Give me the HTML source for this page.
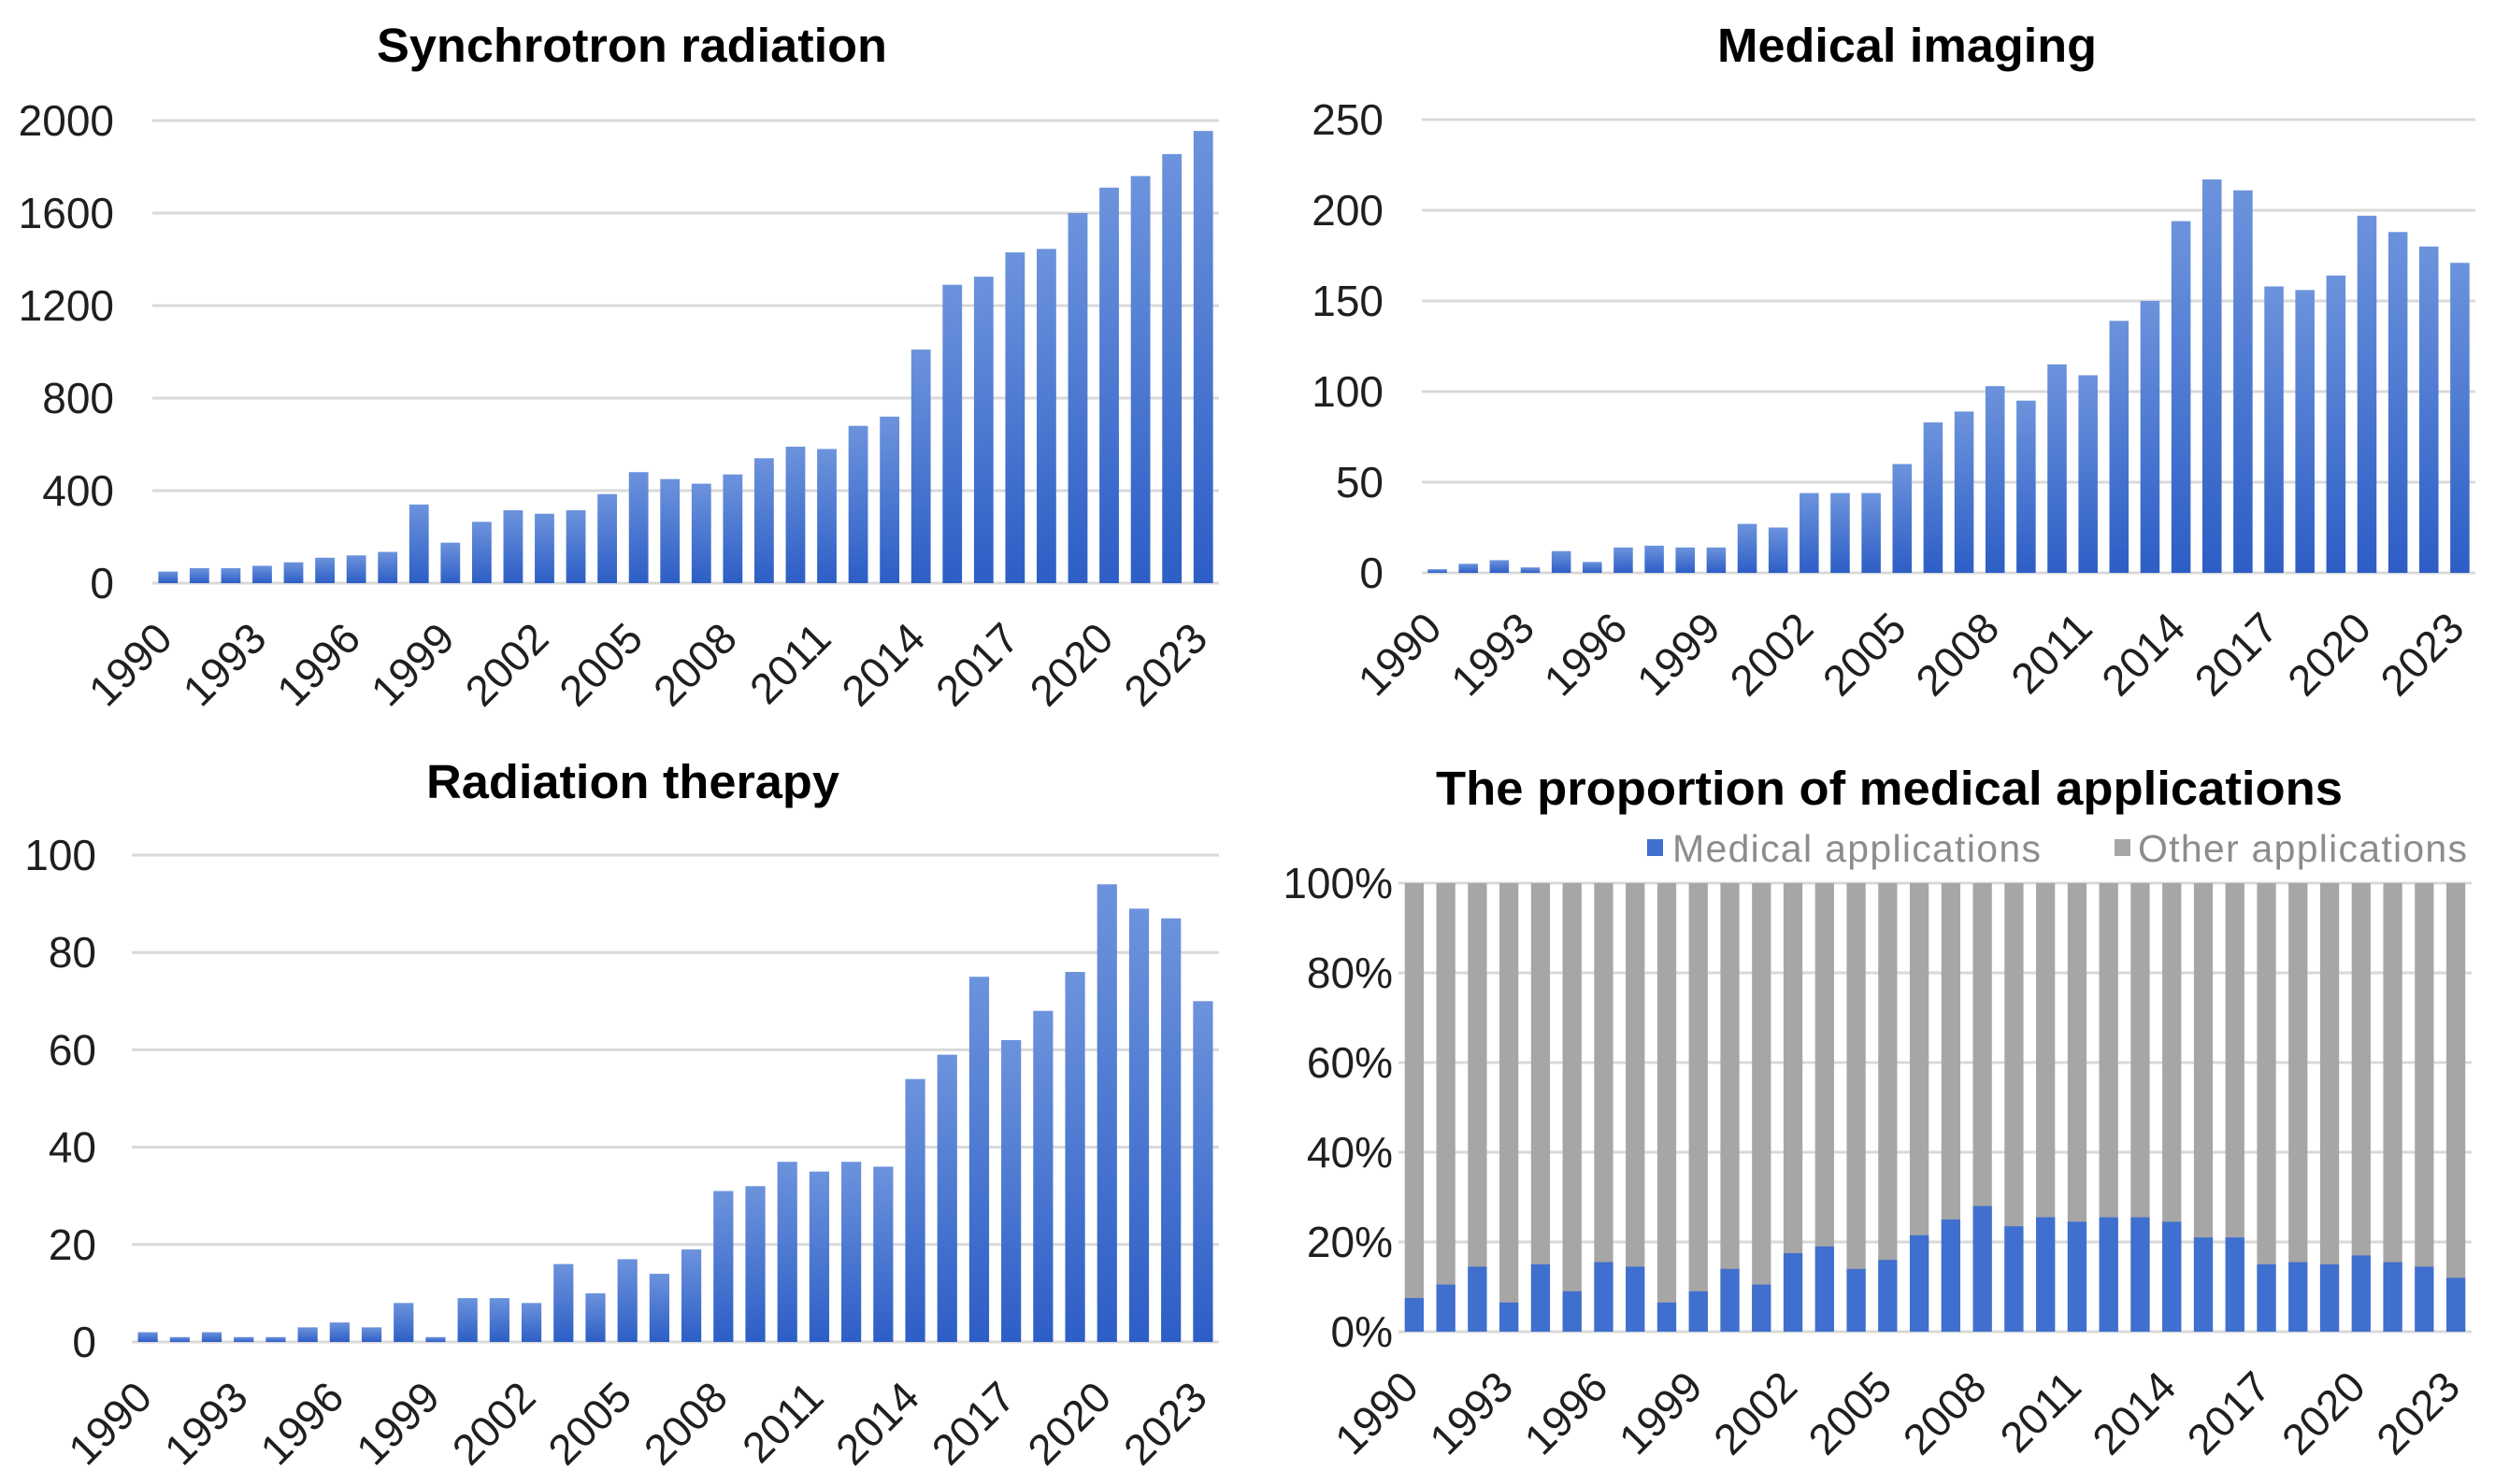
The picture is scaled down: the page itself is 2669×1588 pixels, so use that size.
<!DOCTYPE html>
<html><head><meta charset="utf-8"><style>
html,body{margin:0;padding:0;background:#fff;}
svg{display:block;font-family:"Liberation Sans",sans-serif;}
</style></head><body>
<svg id="fig" width="2669" height="1588" viewBox="0 0 2669 1588" xmlns="http://www.w3.org/2000/svg">
<defs>
<linearGradient id="blueGrad" x1="0" y1="0" x2="0" y2="1">
<stop offset="0" stop-color="#6c93dc"/><stop offset="1" stop-color="#2d5ec6"/>
</linearGradient>
</defs>
</svg>
<script>
const years = [];
for (let y = 1990; y <= 2023; y++) years.push(y);
const xLabelYears = [1990,1993,1996,1999,2002,2005,2008,2011,2014,2017,2020,2023];
const synchrotronValues = [50,65,65,75,90,110,120,135,340,175,265,315,300,315,385,480,450,430,470,540,590,580,680,720,1010,1290,1325,1430,1445,1600,1710,1760,1855,1955];
const synchrotronTicks = [0,400,800,1200,1600,2000];
const imagingValues = [2,5,7,3,12,6,14,15,14,14,27,25,44,44,44,60,83,89,103,95,115,109,139,150,194,217,211,158,156,164,197,188,180,171];
const imagingTicks = [0,50,100,150,200,250];
const therapyValues = [2,1,2,1,1,3,4,3,8,1,9,9,8,16,10,17,14,19,31,32,37,35,37,36,54,59,75,62,68,76,94,89,87,70];
const therapyTicks = [0,20,40,60,80,100];
const medicalShare = [7.5,10.5,14.5,6.5,15,9,15.5,14.5,6.5,9,14,10.5,17.5,19,14,16,21.5,25,28,23.5,25.5,24.5,25.5,25.5,24.5,21,21,15,15.5,15,17,15.5,14.5,12];
const shareTicks = [0,20,40,60,80,100];

const NS = "http://www.w3.org/2000/svg";
const svg = document.getElementById('fig');
function mk(tag, attrs, parent) {
  const e = document.createElementNS(NS, tag);
  for (const k in attrs) e.setAttribute(k, attrs[k]);
  (parent || svg).appendChild(e);
  return e;
}

function drawChart(cfg) {
  const g = mk('g', {});
  
  
  const maxV = cfg.ticks[cfg.ticks.length - 1];
  const yScale = v => cfg.y0 - (v / maxV) * (cfg.y0 - cfg.yTop);
  const pitch = (cfg.x1 - cfg.x0) / years.length;
  const xCenter = i => cfg.x0 + pitch * (i + 0.5);

  const t = mk('text', {x: cfg.titleX, y: cfg.titleY, 'text-anchor': 'middle', 'font-size': 51, 'font-weight': 'bold', fill: '#000', textLength: cfg.titleW, lengthAdjust: 'spacingAndGlyphs'}, g);
  t.textContent = cfg.title;
  
  

  cfg.ticks.forEach(v => {
    const yy = yScale(v);
    const ln = mk('line', {x1: cfg.x0, x2: cfg.x1, y1: yy, y2: yy, stroke: '#d9d9d9', 'stroke-width': 3}, g);
    
    
    const lb = mk('text', {x: cfg.labelX, y: yy + 16, 'text-anchor': 'end', 'font-size': 46, fill: '#1f1f1f'}, g);
    lb.textContent = v + (cfg.pct ? '%' : '');
    
    
  });

  const bw = pitch * cfg.barFrac;
  years.forEach((yr, i) => {
    const cx = xCenter(i);
    if (cfg.pct) {
      const other = mk('rect', {x: cx - bw / 2, y: yScale(100), width: bw, height: cfg.y0 - yScale(100), fill: '#a6a6a6'}, g);
      
      
      const v = cfg.values[i];
      const med = mk('rect', {x: cx - bw / 2, y: yScale(v), width: bw, height: cfg.y0 - yScale(v), fill: '#3f6fcf'}, g);
      
      
    } else {
      const v = cfg.values[i];
      const r = mk('rect', {x: cx - bw / 2, y: yScale(v), width: bw, height: cfg.y0 - yScale(v), fill: 'url(#blueGrad)'}, g);
      
      
    }
    if (xLabelYears.indexOf(yr) >= 0) {
      const ex = cx + 7, ey = cfg.y0 + 62;
      const xl = mk('text', {x: ex, y: ey, 'text-anchor': 'end', 'font-size': 46, fill: '#1f1f1f', transform: 'rotate(-45 ' + ex + ' ' + ey + ')'}, g);
      xl.textContent = yr;
      
      
    }
  });
}

drawChart({name: 'synchrotron-chart', title: 'Synchrotron radiation', titleX: 676, titleY: 66, titleW: 546,
  values: synchrotronValues, ticks: synchrotronTicks, x0: 163, x1: 1304, yTop: 129, y0: 624, labelX: 122, barFrac: 0.62});
drawChart({name: 'imaging-chart', title: 'Medical imaging', titleX: 2040, titleY: 66, titleW: 406,
  values: imagingValues, ticks: imagingTicks, x0: 1521, x1: 2648, yTop: 128, y0: 613, labelX: 1480, barFrac: 0.62});
drawChart({name: 'therapy-chart', title: 'Radiation therapy', titleX: 677, titleY: 854, titleW: 442,
  values: therapyValues, ticks: therapyTicks, x0: 141, x1: 1304, yTop: 915, y0: 1436, labelX: 103, barFrac: 0.62});
drawChart({name: 'proportion-chart', title: 'The proportion of medical applications', titleX: 2021, titleY: 861, titleW: 970,
  values: medicalShare, ticks: shareTicks, x0: 1496, x1: 2644, yTop: 945, y0: 1425, labelX: 1490, barFrac: 0.6, pct: true});

const leg = mk('g', {});


const s1 = mk('rect', {x: 1762, y: 898, width: 17, height: 18, fill: '#3f6fcf'}, leg);


const l1 = mk('text', {x: 1789, y: 922, 'font-size': 41, fill: '#8c8c8c', textLength: 394}, leg);
l1.textContent = 'Medical applications';


const s2 = mk('rect', {x: 2262, y: 898, width: 17, height: 18, fill: '#a6a6a6'}, leg);


const l2 = mk('text', {x: 2287, y: 922, 'font-size': 41, fill: '#8c8c8c', textLength: 352}, leg);
l2.textContent = 'Other applications';


</script>
</body></html>
